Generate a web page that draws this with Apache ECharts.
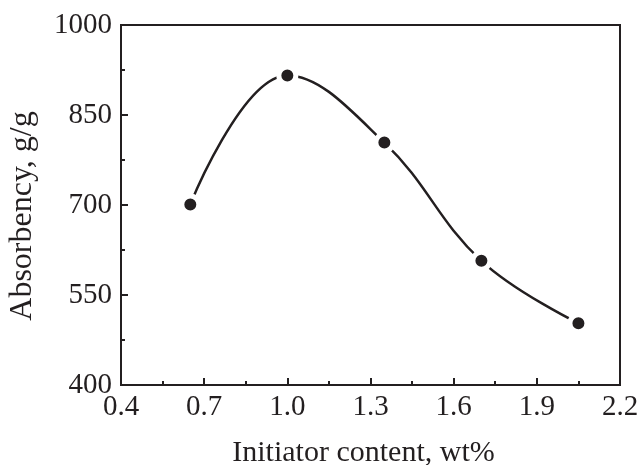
<!DOCTYPE html>
<html><head><meta charset="utf-8">
<script src="https://cdn.jsdelivr.net/npm/echarts@6/dist/echarts.min.js"></script>
<style>html,body{margin:0;padding:0;background:#fff}#c{width:640px;height:465px}</style>
</head><body><div id="c"></div>
<script>
const xValues = [0.65, 1.0, 1.35, 1.7, 2.05];
const yValues = [701, 916, 804, 607, 503];
const xTicks = [0.4, 0.7, 1.0, 1.3, 1.6, 1.9, 2.2];
const yTicks = [400, 550, 700, 850, 1000];

const ink = '#231f20';
const font = 'Liberation Serif';
const chart = echarts.init(document.getElementById('c'));
chart.setOption({
  animation: false,
  backgroundColor: '#fff',
  grid: {left: 121, right: 20, top: 25, bottom: 80, outerBoundsMode: 'none', containLabel: false, show: true, borderColor: ink, borderWidth: 2, backgroundColor: 'transparent'},
  xAxis: {
    type: 'value', min: xTicks[0], max: xTicks[xTicks.length-1], interval: 0.3,
    name: 'Initiator content, wt%', nameLocation: 'middle', nameGap: 53,
    nameTextStyle: {fontFamily: font, fontSize: 30, color: ink, padding: [0, 14, 0, 0]},
    axisLine: {lineStyle: {color: ink, width: 2}},
    axisTick: {inside: true, length: 7, lineStyle: {color: ink, width: 2}},
    minorTick: {show: true, splitNumber: 2, length: 4, lineStyle: {color: ink, width: 2}},
    splitLine: {show: false},
    axisLabel: {fontFamily: font, fontSize: 29, color: ink, margin: 8, formatter: v => v.toFixed(1)}
  },
  yAxis: {
    type: 'value', min: yTicks[0], max: yTicks[yTicks.length-1], interval: 150,
    name: 'Absorbency, g/g', nameLocation: 'middle', nameGap: 82,
    nameTextStyle: {fontFamily: font, fontSize: 32, color: ink, padding: [0, 22, 0, 0]},
    axisLine: {show: true, lineStyle: {color: ink, width: 2}},
    axisTick: {show: true, inside: true, length: 7, lineStyle: {color: ink, width: 2}},
    minorTick: {show: true, splitNumber: 2, length: 4, lineStyle: {color: ink, width: 2}},
    splitLine: {show: false},
    axisLabel: {fontFamily: font, fontSize: 29, color: ink, margin: 9, formatter: v => String(v)}
  },
  series: [{
    type: 'line',
    data: xValues.map((x, i) => [x, yValues[i]]),
    smooth: 0.4,
    lineStyle: {color: ink, width: 2.5},
    symbol: 'circle', symbolSize: 17,
    itemStyle: {color: ink, borderColor: '#fff', borderWidth: 5},
    z: 3
  }]
});
</script></body></html>
